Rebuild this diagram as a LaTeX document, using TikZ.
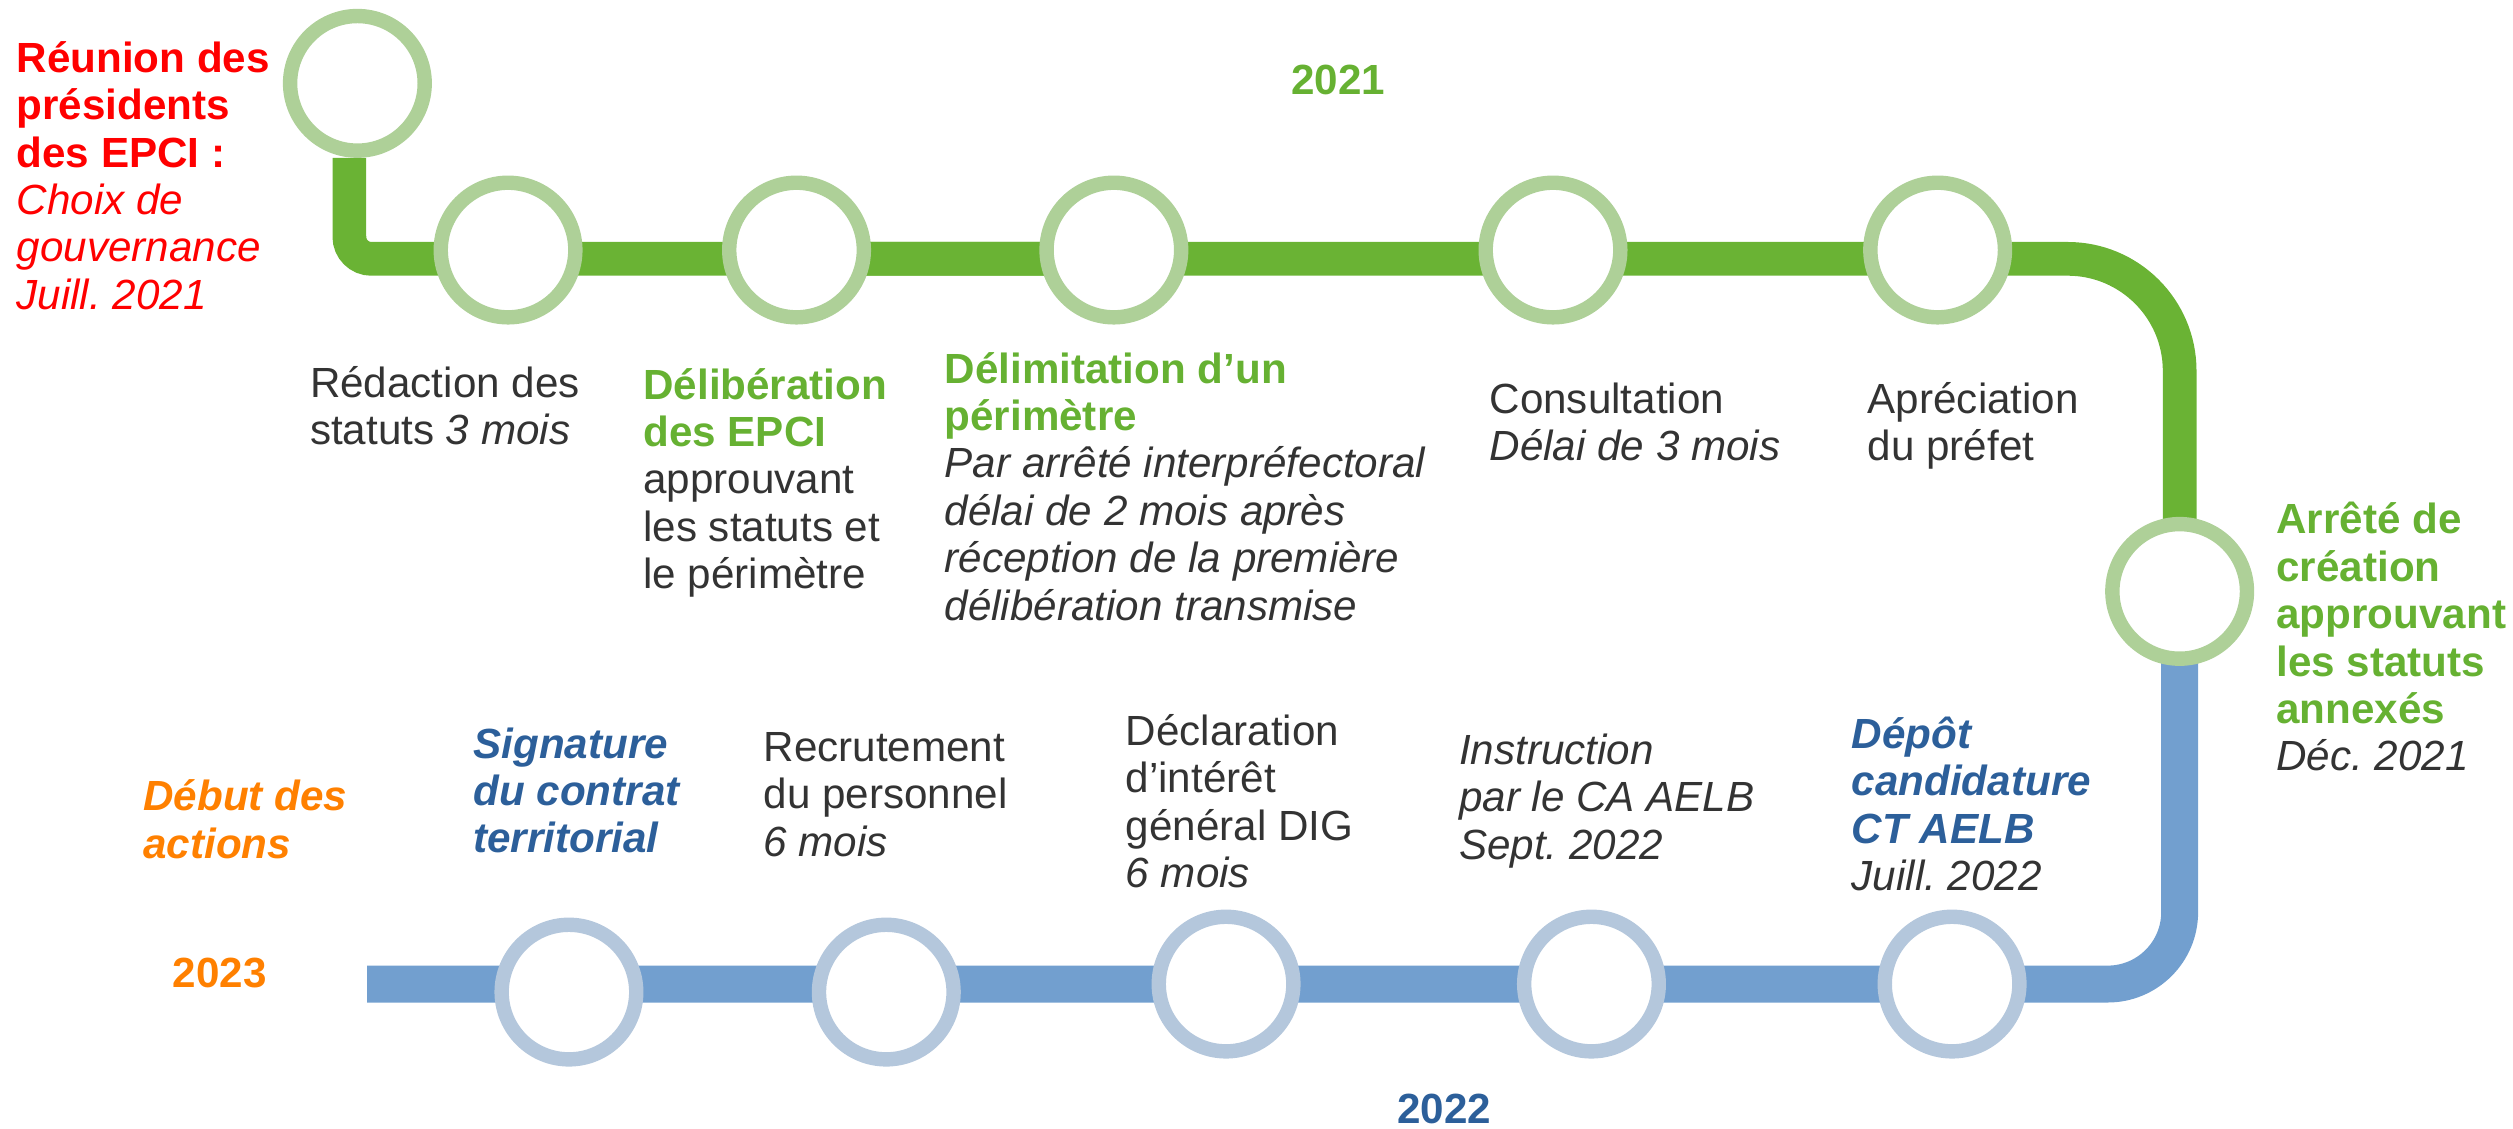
\documentclass[tikz,border=0pt]{standalone}
\usepackage{fontspec}
\setmainfont{Liberation Sans}
\usepackage{tikz}
\usetikzlibrary{backgrounds}

\definecolor{voieverte}{HTML}{6AB334}
\definecolor{rondvert}{HTML}{AED098}
\definecolor{voiebleue}{HTML}{729FCF}
\definecolor{rondbleu}{HTML}{B4C7DC}
\definecolor{texteV}{HTML}{66B132}
\definecolor{texteB}{HTML}{2C5F9A}
\definecolor{texteO}{HTML}{FF8000}
\definecolor{texteR}{HTML}{FF0000}
\definecolor{sombre}{HTML}{333333}

\frenchspacing
\newcommand{\lab}{\fontsize{12}{13.5}\selectfont}
\newcommand{\lignes}[1]{\begin{tabular}[t]{@{}l@{}}#1\end{tabular}}

\tikzset{
  rond/.style={circle, draw, fill=white, inner sep=0pt,
    line width=1.44mm, minimum size=13.46mm},
  rondV/.style={rond, draw=rondvert},
  rondB/.style={rond, draw=rondbleu},
  etiq/.style={anchor=base west, inner sep=0pt, font=\lab, text=sombre},
  annee/.style={anchor=base, inner sep=0pt, font=\lab\bfseries},
}

\begin{document}
\begin{tikzpicture}[x=0.16027mm, y=-0.16027mm]
    \useasboundingbox (0,0) rectangle (1568,704);

    %% stations 2021
    \node[rondV] (g0) at (223,52) {};
    \node[rondV] (g1) at (317,156) {};
    \node[rondV] (g2) at (497,156) {};
    \node[rondV] (g3) at (695,156) {};
    \node[rondV] (g4) at (969,156) {};
    \node[rondV] (g5) at (1209,156) {};
    \node[rondV] (g6) at (1360,369) {};

    %% stations 2022 - 2023
    \node[rondB] (b1) at (1218,614) {};
    \node[rondB] (b2) at (993,614) {};
    \node[rondB] (b3) at (765,614) {};
    \node[rondB] (b4) at (553,619) {};
    \node[rondB] (b5) at (355,619) {};

    \coordinate (coudeA) at (218,161.5);
    \coordinate (coudeB) at (1360,161.5);
    \coordinate (coudeC) at (1360,614);
    \coordinate (fin) at (229,614);

    %% the two lines, under the stations
    \begin{scope}[on background layer]
      \draw[voieverte, line width=3.37mm, rounded corners=2.2mm]
        (g0.south -| coudeA) -- (coudeA) -- (g3.center |- coudeA);
      \draw[voieverte, line width=3.37mm, rounded corners=11.2mm]
        (g2.center |- coudeA) -- (coudeB) -- (g6.center);
      \draw[voiebleue, line width=3.69mm, rounded corners=7.2mm]
        (g6.center) -- (coudeC) -- (fin);
    \end{scope}

    %% years
    \node[annee, text=texteV] (an1) at (835,59) {2021};
    \node[annee, text=texteB] (an2) at (901,701) {2022};
    \node[annee, text=texteO] (an3) at (137,616) {2023};

    %% labels, top line
    \node[etiq, text=texteR] (t0) at (10,45) {\lignes{\bfseries Réunion des\\
      \bfseries présidents\\ \bfseries des EPCI :\\ \itshape Choix de\\
      \itshape gouvernance\\ \itshape Juill. 2021}};
    \node[etiq] (t1) at (193,248) {\lignes{Rédaction des\\
      statuts \textit{3 mois}}};
    \node[etiq] (t2) at (401,249) {\lignes{\color{texteV}\bfseries Délibération\\
      \color{texteV}\bfseries des EPCI\\ approuvant\\ les statuts et\\ le périmètre}};
    \node[etiq] (t3) at (589,239) {\lignes{\color{texteV}\bfseries Délimitation d’un\\
      \color{texteV}\bfseries périmètre\\ \itshape Par arrêté interpréfectoral\\
      \itshape délai de 2 mois après\\ \itshape réception de la première\\
      \itshape délibération transmise}};
    \node[etiq] (t4) at (929,258) {\lignes{Consultation\\ \itshape Délai de 3 mois}};
    \node[etiq] (t5) at (1165,258) {\lignes{Apréciation\\ du préfet}};
    \node[etiq] (t6) at (1420,333) {\lignes{\color{texteV}\bfseries Arrêté de\\
      \color{texteV}\bfseries création\\ \color{texteV}\bfseries approuvant\\
      \color{texteV}\bfseries les statuts\\ \color{texteV}\bfseries annexés\\
      \itshape Déc. 2021}};

    %% labels, bottom line
    \node[etiq] (s1) at (1155,467) {\lignes{\color{texteB}\bfseries\itshape Dépôt\\
      \color{texteB}\bfseries\itshape candidature\\
      \color{texteB}\bfseries\itshape CT AELB\\ \itshape Juill. 2022}};
    \node[etiq] (s2) at (910,477) {\lignes{\itshape Instruction\\
      \itshape par le CA AELB\\ \itshape Sept. 2022}};
    \node[etiq] (s3) at (702,465) {\lignes{Déclaration\\ d’intérêt\\
      général DIG\\ \itshape 6 mois}};
    \node[etiq] (s4) at (476,475) {\lignes{Recrutement\\ du personnel\\
      \itshape 6 mois}};
    \node[etiq, text=texteB] (s5) at (295,473) {\lignes{\bfseries\itshape Signature\\
      \bfseries\itshape du contrat\\ \bfseries\itshape territorial}};
    \node[etiq, text=texteO] (s6) at (89,506) {\lignes{\bfseries\itshape Début des\\
      \bfseries\itshape actions}};

\end{tikzpicture}
\end{document}
